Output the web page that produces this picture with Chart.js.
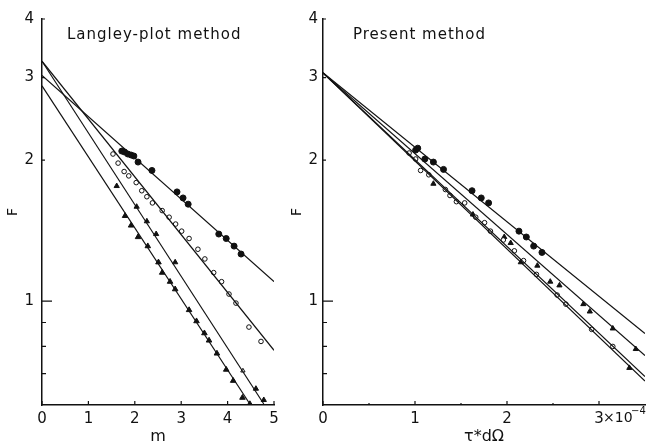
<!DOCTYPE html>
<html>
<head>
<meta charset="utf-8">
<script src="https://cdn.jsdelivr.net/npm/chart.js@4.4.0/dist/chart.umd.min.js"></script>
<style>
    body { margin: 0; background: #fff; }
    #wrap { position: relative; width: 650px; height: 442px; }
    #leftBox { position: absolute; left: 0; top: 0; width: 288px; height: 442px; }
    #rightBox { position: absolute; left: 288px; top: 0; width: 362px; height: 442px; }
</style>
</head>
<body>
<div id="wrap">
    <div id="leftBox"><canvas id="langleyChart"></canvas></div>
    <div id="rightBox"><canvas id="presentChart"></canvas></div>
</div>
<script>
// --- axis ticks ---
const yMajor = [1, 2, 3, 4];
const yMinor = [0.7, 0.8, 0.9];
const langleyXTicks = [0, 1, 2, 3, 4, 5];
const presentXTicks = [0, 1, 2, 3];
const presentXMinor = [0.5, 1.5, 2.5];

// --- Langley-plot method (left) ---
// fitted lines: F at m = 0, and end point
const langleyFitF0 = [3.03, 3.25, 3.25, 2.88];
const langleyFitEndM = [5, 5, 4.78, 4.48];
const langleyFitEndF = [1.10, 0.785, 0.603, 0.603];

const lFilledCircleM = [1.72, 1.78, 1.85, 1.92, 1.98, 2.07, 2.37, 2.91, 3.04, 3.15, 3.81, 3.97, 4.14, 4.29];
const lFilledCircleF = [2.09, 2.08, 2.06, 2.05, 2.04, 1.98, 1.90, 1.71, 1.66, 1.61, 1.39, 1.36, 1.31, 1.26];

const lOpenCircleM = [1.53, 1.64, 1.77, 1.87, 2.03, 2.15, 2.26, 2.38, 2.59, 2.74, 2.88, 3.01, 3.17, 3.36, 3.51, 3.70, 3.87, 4.03, 4.18, 4.46, 4.72];
const lOpenCircleF = [2.06, 1.97, 1.89, 1.85, 1.79, 1.72, 1.67, 1.62, 1.56, 1.51, 1.46, 1.41, 1.36, 1.29, 1.23, 1.15, 1.10, 1.035, 0.99, 0.88, 0.82];

const lSmallTriM = [1.61, 2.04, 2.26, 2.46, 2.87, 4.61, 4.78];
const lSmallTriF = [1.76, 1.59, 1.48, 1.39, 1.21, 0.65, 0.615];
const lOpenTriM = [4.33];
const lOpenTriF = [0.71];

const lFilledTriM = [1.79, 1.92, 2.07, 2.28, 2.51, 2.59, 2.76, 2.87, 3.17, 3.33, 3.50, 3.60, 3.77, 3.97, 4.12, 4.32, 4.48];
const lFilledTriF = [1.52, 1.45, 1.37, 1.31, 1.21, 1.15, 1.10, 1.06, 0.957, 0.906, 0.854, 0.824, 0.773, 0.714, 0.676, 0.622, 0.603];

// --- Present method (right), x in units of 1e-4 ---
const presentFitF0 = [3.07, 3.07, 3.07, 3.07];
const presentFitEndX = [3.5, 3.5, 3.5, 3.5];
const presentFitEndF = [0.853, 0.765, 0.69, 0.675];

const pFilledCircleX = [1.007, 1.03, 1.107, 1.20, 1.31, 1.62, 1.72, 1.80, 2.13, 2.21, 2.29, 2.38];
const pFilledCircleF = [2.10, 2.12, 2.01, 1.98, 1.91, 1.72, 1.66, 1.62, 1.41, 1.37, 1.31, 1.27];

const pOpenCircleX = [0.936, 1.007, 1.061, 1.15, 1.33, 1.38, 1.45, 1.54, 1.66, 1.756, 1.82, 1.96, 2.08, 2.18, 2.32, 2.545, 2.64, 2.92, 3.15];
const pOpenCircleF = [2.07, 2.01, 1.90, 1.86, 1.73, 1.68, 1.63, 1.62, 1.51, 1.47, 1.41, 1.35, 1.28, 1.22, 1.14, 1.03, 0.985, 0.87, 0.80];

const pTriX = [1.97, 2.04, 2.33, 2.57, 2.83, 2.90, 3.15, 3.40];
const pTriF = [1.37, 1.33, 1.19, 1.08, 0.985, 0.95, 0.874, 0.79];

const pLowTriX = [1.20, 1.63, 2.15, 2.47, 3.33];
const pLowTriF = [1.78, 1.53, 1.21, 1.10, 0.72];

const FONT = 'DejaVu Sans';
const INK = '#111';

function pts(xs, ys) {
    return xs.map((x, i) => ({ x: x, y: ys[i] }));
}

function fitLines(f0, endX, endF) {
    return f0.map((f, i) => ({
        data: [{ x: 0, y: f }, { x: endX[i], y: endF[i] }],
        showLine: true,
        pointRadius: 0,
        borderColor: INK,
        borderWidth: 1.2,
    }));
}

function marks(xs, ys, style, filled, radius) {
    return {
        data: pts(xs, ys),
        showLine: false,
        pointStyle: style,
        pointRadius: radius,
        pointBackgroundColor: filled ? INK : '#fff',
        pointBorderColor: INK,
        pointBorderWidth: 1,
    };
}

// draws inward tick marks, the panel title and the x10^-4 suffix
const panelDecor = {
    id: 'panelDecor',
    afterDraw(chart, args, opts) {
        const ctx = chart.ctx;
        const xs = chart.scales.x, ys = chart.scales.y;
        ctx.save();
        ctx.strokeStyle = INK;
        ctx.lineWidth = 1.2;
        ctx.beginPath();
        opts.xMajor.forEach(v => {
            const px = xs.getPixelForValue(v);
            ctx.moveTo(px, xs.top); ctx.lineTo(px, xs.top - 4);
        });
        (opts.xMinor || []).forEach(v => {
            const px = xs.getPixelForValue(v);
            ctx.moveTo(px, xs.top); ctx.lineTo(px, xs.top - 2);
        });
        yMajor.forEach(v => {
            const py = ys.getPixelForValue(v);
            ctx.moveTo(ys.right, py); ctx.lineTo(ys.right + (v === 1 ? 10 : 3), py);
        });
        yMinor.forEach(v => {
            const py = ys.getPixelForValue(v);
            ctx.moveTo(ys.right, py); ctx.lineTo(ys.right + 4, py);
        });
        ctx.stroke();

        ctx.fillStyle = INK;
        ctx.font = '15px ' + FONT;
        ctx.letterSpacing = '1px';
        ctx.textBaseline = 'alphabetic';
        ctx.fillText(opts.title, chart.chartArea.left + opts.titleDx, 39);

        if (opts.suffix) {
            const px = xs.getPixelForValue(3);
            ctx.letterSpacing = '0px';
            ctx.font = '14px ' + FONT;
            ctx.fillText('×10', px + 4, 422);
            ctx.font = '10px ' + FONT;
            ctx.fillText('−4', px + 32, 414);
        }
        ctx.restore();
    }
};

function makeOptions(xMax, xTicks, yWidth, padRight, yPad, titlePad, xTitle, decor) {
    return {
        responsive: true,
        maintainAspectRatio: false,
        animation: false,
        layout: { padding: { top: 19, right: padRight, left: 0, bottom: 0 } },
        plugins: { legend: { display: false }, tooltip: { enabled: false }, panelDecor: decor },
        scales: {
            x: {
                type: 'linear',
                min: 0,
                max: xMax,
                afterBuildTicks: axis => { axis.ticks = xTicks.map(v => ({ value: v })); },
                afterFit: axis => { axis.height = 37; },
                grid: { display: false, drawTicks: false },
                border: { display: true, color: INK, width: 1.5 },
                ticks: { color: INK, font: { family: FONT, size: 15 }, padding: 5, maxRotation: 0, autoSkip: false,
                    callback: v => String(v) },
                title: { display: true, text: xTitle, color: INK, font: { family: FONT, size: 16, lineHeight: 1 },
                    padding: { top: 0, bottom: -3 } }
            },
            y: {
                type: 'logarithmic',
                min: 0.6,
                max: 4,
                afterBuildTicks: axis => { axis.ticks = yMajor.map(v => ({ value: v })); },
                afterFit: axis => { axis.width = yWidth; },
                grid: { display: false, drawTicks: false },
                border: { display: true, color: INK, width: 1.5 },
                ticks: { color: INK, font: { family: FONT, size: 15 }, padding: yPad, callback: v => String(v) },
                title: { display: true, text: 'F', color: INK, font: { family: FONT, size: 14 },
                    padding: { top: titlePad, bottom: titlePad } }
            }
        }
    };
}

new Chart(document.getElementById('langleyChart'), {
    type: 'scatter',
    data: {
        datasets: [
            ...fitLines(langleyFitF0, langleyFitEndM, langleyFitEndF),
            marks(lFilledCircleM, lFilledCircleF, 'circle', true, 3),
            marks(lOpenCircleM, lOpenCircleF, 'circle', false, 2.3),
            marks(lSmallTriM, lSmallTriF, 'triangle', true, 3),
            marks(lOpenTriM, lOpenTriF, 'triangle', false, 2.5),
            marks(lFilledTriM, lFilledTriF, 'triangle', true, 3.2),
        ]
    },
    options: makeOptions(5, langleyXTicks, 42, 14, 8, 5, 'm',
        { title: 'Langley-plot method', titleDx: 25, xMajor: langleyXTicks }),
    plugins: [panelDecor]
});

new Chart(document.getElementById('presentChart'), {
    type: 'scatter',
    data: {
        datasets: [
            ...fitLines(presentFitF0, presentFitEndX, presentFitEndF),
            marks(pFilledCircleX, pFilledCircleF, 'circle', true, 3),
            marks(pOpenCircleX, pOpenCircleF, 'circle', false, 2.3),
            marks(pTriX, pTriF, 'triangle', true, 3),
            marks(pLowTriX, pLowTriF, 'triangle', true, 3),
        ]
    },
    options: makeOptions(3.5, presentXTicks, 35, 0, 5, 1, 'τ*dΩ',
        { title: 'Present method', titleDx: 30, xMajor: presentXTicks, xMinor: presentXMinor, suffix: true }),
    plugins: [panelDecor]
});
</script>
</body>
</html>
